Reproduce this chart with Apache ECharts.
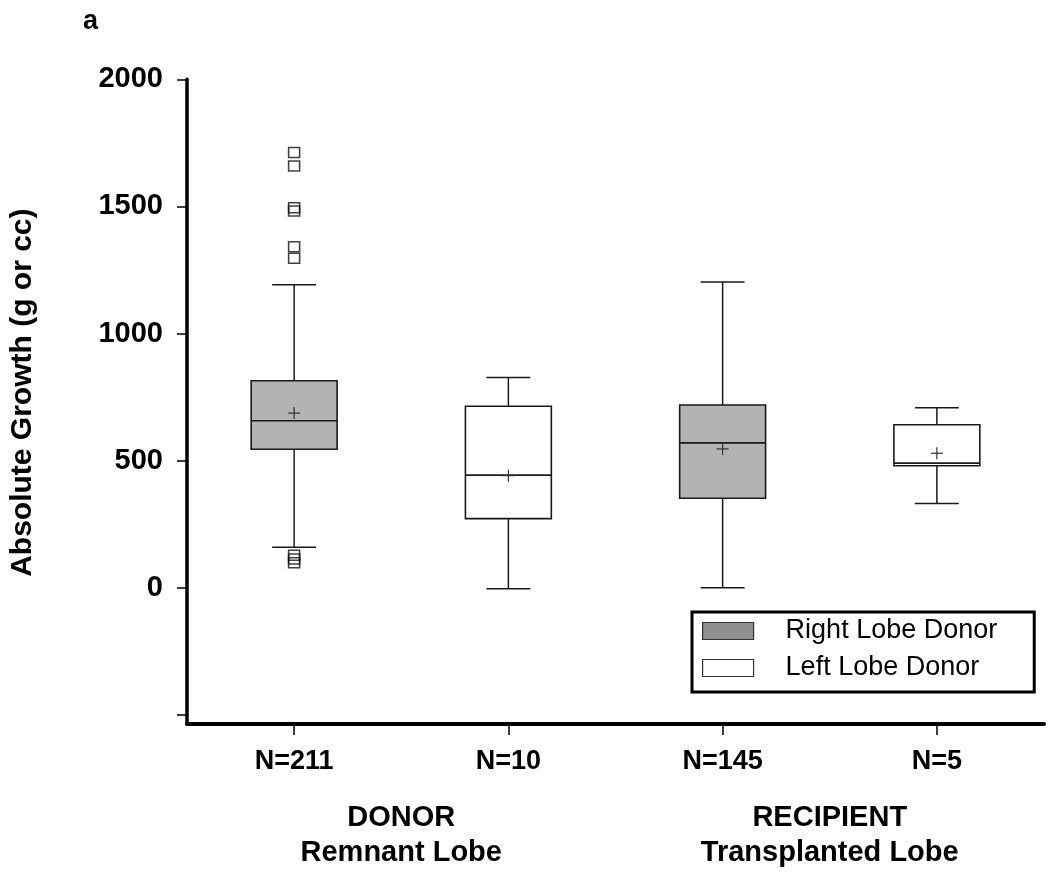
<!DOCTYPE html>
<html>
<head>
<meta charset="utf-8">
<script src="https://cdn.jsdelivr.net/npm/echarts@6/dist/echarts.min.js"></script>
<style>
html,body{margin:0;padding:0;background:#fff;}
#chart{width:1050px;height:877px;}
</style>
</head>
<body>
<div id="chart"></div>
<script>
// ---- data ----
var categories = ['N=211', 'N=10', 'N=145', 'N=5'];
var groupLabels = ['DONOR\nRemnant Lobe', 'RECIPIENT\nTransplanted Lobe'];
var donorType = ['Right Lobe Donor', 'Left Lobe Donor', 'Right Lobe Donor', 'Left Lobe Donor'];
var whiskerLow  = [159, -4, 0, 331];
var q1          = [545, 272, 352, 480];
var median      = [657, 443, 570, 490];
var q3          = [814, 714, 719, 641];
var whiskerHigh = [1192, 827, 1203, 708];
var means       = [687, 441, 546, 529];
var outlierCat  = [0, 0, 0, 0, 0, 0, 0, 0, 0];
var outlierVal  = [1712, 1659, 1495, 1482, 1341, 1296, 128, 113, 98];
var yTickValues = [-500, 0, 500, 1000, 1500, 2000];
var yLabelValues = [0, 500, 1000, 1500, 2000];

var FONT = "'Liberation Sans', Arial, Helvetica, sans-serif";

function boxData(type) {
  var out = [];
  for (var i = 0; i < categories.length; i++) {
    if (donorType[i] === type) {
      out.push([i, whiskerLow[i], q1[i], median[i], q3[i], whiskerHigh[i], means[i]]);
    }
  }
  return out;
}

function renderBox(params, api) {
  var cat = api.value(0);
  var band = api.size([1, 0])[0];
  var bw = band * 0.401;
  var cw = band * 0.205;
  var pLow = api.coord([cat, api.value(1)]);
  var pQ1 = api.coord([cat, api.value(2)]);
  var pMed = api.coord([cat, api.value(3)]);
  var pQ3 = api.coord([cat, api.value(4)]);
  var pHigh = api.coord([cat, api.value(5)]);
  var pMean = api.coord([cat, api.value(6)]);
  var x = pMed[0];
  var fill = api.visual('color');
  var stroke = '#1a1a1a';
  var ls = {stroke: stroke, lineWidth: 1.5};
  var pl = 6;
  return {
    type: 'group',
    children: [
      {type: 'line', shape: {x1: x, y1: pQ3[1], x2: x, y2: pHigh[1]}, style: ls},
      {type: 'line', shape: {x1: x, y1: pQ1[1], x2: x, y2: pLow[1]}, style: ls},
      {type: 'line', shape: {x1: x - cw / 2, y1: pHigh[1], x2: x + cw / 2, y2: pHigh[1]}, style: ls},
      {type: 'line', shape: {x1: x - cw / 2, y1: pLow[1], x2: x + cw / 2, y2: pLow[1]}, style: ls},
      {type: 'rect', shape: {x: x - bw / 2, y: pQ3[1], width: bw, height: pQ1[1] - pQ3[1]},
        style: {fill: fill, stroke: stroke, lineWidth: 1.6}},
      {type: 'line', shape: {x1: x - bw / 2, y1: pMed[1], x2: x + bw / 2, y2: pMed[1]}, style: {stroke: stroke, lineWidth: 1.6}},
      {type: 'line', shape: {x1: x - pl, y1: pMean[1], x2: x + pl, y2: pMean[1]}, style: {stroke: '#333', lineWidth: 1.2}},
      {type: 'line', shape: {x1: x, y1: pMean[1] - pl, x2: x, y2: pMean[1] + pl}, style: {stroke: '#333', lineWidth: 1.2}}
    ]
  };
}

var outlierData = outlierVal.map(function (v, i) { return [outlierCat[i], v]; });

var chart = echarts.init(document.getElementById('chart'), null, {renderer: 'canvas'});
chart.setOption({
  animation: false,
  backgroundColor: '#fff',
  textStyle: {fontFamily: FONT},
  grid: {left: 186, right: 6, top: 79.3, bottom: 153},
  legend: {
    left: 692, top: 612,
    orient: 'vertical',
    backgroundColor: '#fff',
    borderColor: '#000', borderWidth: 3,
    padding: [4, 37, 9, 10],
    itemWidth: 51, itemHeight: 17, itemGap: 7,
    selectedMode: false,
    icon: 'rect',
    textStyle: {fontSize: 27, color: '#000', fontFamily: FONT, lineHeight: 30, padding: [0, 0, 0, 27]},
    data: [
      {name: 'Right Lobe Donor', itemStyle: {color: '#8f8f8f', borderColor: '#333', borderWidth: 1.2}},
      {name: 'Left Lobe Donor', itemStyle: {color: '#ffffff', borderColor: '#333', borderWidth: 1.2}}
    ]
  },
  graphic: [
    {type: 'text', left: 83, top: 8, style: {text: 'a', font: 'bold 27px ' + FONT, fill: '#000'}}
  ],
  xAxis: [
    {
      type: 'category', data: categories, position: 'bottom',
      axisLine: {show: true, onZero: false, lineStyle: {color: '#000', width: 4}},
      axisTick: {show: true, interval: 0, alignWithLabel: true, inside: false, length: 11, lineStyle: {color: '#000', width: 1.5}},
      axisLabel: {margin: 24, fontSize: 27, fontWeight: 'bold', color: '#000', fontFamily: FONT},
      splitLine: {show: false}
    },
    {
      type: 'category', data: groupLabels, position: 'bottom',
      axisLine: {show: false, onZero: false}, axisTick: {show: false},
      axisLabel: {margin: 76, fontSize: 29, fontWeight: 'bold', color: '#000', lineHeight: 35, fontFamily: FONT},
      splitLine: {show: false}
    }
  ],
  yAxis: {
    type: 'value', min: -536, max: 2000,
    name: 'Absolute Growth (g or cc)', nameLocation: 'middle', nameGap: 149, nameRotate: 90,
    nameTextStyle: {fontSize: 30, fontWeight: 'bold', color: '#000', fontFamily: FONT, padding: [0, 0, 0, 18]},
    axisLine: {show: true, lineStyle: {color: '#000', width: 3.5}},
    axisTick: {show: true, length: 10, lineStyle: {color: '#000', width: 1.5}, customValues: yTickValues},
    axisLabel: {margin: 24, fontSize: 29, fontWeight: 'bold', color: '#000', fontFamily: FONT,
      customValues: yLabelValues, formatter: function (v) { return String(v); }},
    splitLine: {show: false}
  },
  series: [
    {
      name: 'Right Lobe Donor', type: 'custom', xAxisIndex: 0,
      itemStyle: {color: '#b3b3b3'},
      renderItem: renderBox, data: boxData('Right Lobe Donor'),
      encode: {x: 0, y: [1, 2, 3, 4, 5, 6]}
    },
    {
      name: 'Left Lobe Donor', type: 'custom', xAxisIndex: 0,
      itemStyle: {color: '#ffffff'},
      renderItem: renderBox, data: boxData('Left Lobe Donor'),
      encode: {x: 0, y: [1, 2, 3, 4, 5, 6]}
    },
    {
      name: 'Outliers', type: 'scatter', xAxisIndex: 0,
      symbol: 'rect', symbolSize: [11, 10],
      itemStyle: {color: 'rgba(0,0,0,0)', borderColor: '#111', borderWidth: 1.5},
      data: outlierData
    }
  ]
});
</script>
</body>
</html>
